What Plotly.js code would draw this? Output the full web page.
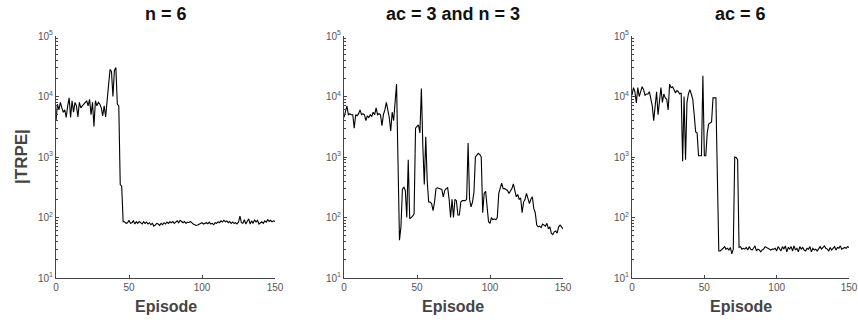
<!DOCTYPE html>
<html>
<head>
<meta charset="utf-8">
<script src="https://cdn.plot.ly/plotly-3.0.1.min.js"></script>
<style>html,body{margin:0;padding:0;background:#fff;}#chart{width:858px;height:320px;}</style>
</head>
<body>
<div id="chart"></div>
<script>
// Episodes 0..150
const episodes = [];
for (let i = 0; i <= 150; i++) episodes.push(i);

const titles = ["n = 6", "ac = 3 and n = 3", "ac = 6"];
const xTitle = "Episode";
const yTitle = "|TRPE|";
const xTickVals = [0, 50, 100, 150];
const yTickVals = [10, 100, 1000, 10000, 100000];
const yTickText = ["10<sup>1</sup>", "10<sup>2</sup>", "10<sup>3</sup>", "10<sup>4</sup>", "10<sup>5</sup>"];

// Panel 1: n = 6
const trpeN6 = [
  4000, 7500, 6000, 8000, 6500, 5500, 6000, 4500, 7000, 9500,
  4500, 8500, 5500, 8000, 7000, 4600, 8000, 6500, 7000, 7500,
  8000, 8500, 7000, 9000, 5000, 8000, 3200, 8500, 7000, 8000,
  7500, 6500, 4800, 7000, 4600, 9000, 20000, 28000, 26000, 10000,
  27000, 30000, 7500, 7000, 350, 330, 85, 85, 80, 82,
  90, 80, 82, 88, 78, 85, 80, 86, 82, 78,
  85, 80, 84, 78, 82, 76, 80, 72, 75, 80,
  78, 74, 80, 76, 82, 78, 84, 80, 85, 82,
  86, 80, 84, 88, 82, 90, 86, 82, 86, 80,
  84, 82, 86, 80, 78, 76, 74, 75, 78, 80,
  82, 78, 80, 82, 79, 84, 78, 80, 76, 82,
  80, 85, 82, 88, 84, 90, 85, 88, 82, 86,
  80, 84, 80, 82, 78, 84, 105, 82, 80, 92,
  78, 85, 95, 78, 88, 80, 92, 84, 90, 78,
  82, 85, 80, 88, 84, 92, 86, 90, 85, 88,
  86
];

// Panel 2: ac = 3 and n = 3
const trpeAc3N3 = [
  4500, 5500, 7000, 5000, 5200, 5000, 5000, 3000, 5000, 4800,
  5200, 6000, 5000, 5200, 5000, 4000, 4800, 4500, 5000, 4700,
  5500, 5000, 6500, 5000, 5200, 5000, 3300, 5000, 6000, 8000,
  6000, 4500, 2700, 5500, 4000, 10000, 16000, 800, 42, 70,
  290, 320, 280, 100, 900, 95, 100, 105, 115, 3000,
  3200, 3400, 2500, 13500, 1500, 350, 2150, 400, 180, 180,
  170, 130, 180, 300, 310, 300, 300, 290, 220, 280,
  300, 310, 200, 100, 200, 100, 200, 190, 110, 110,
  180, 190, 190, 190, 200, 1700, 200, 150, 180, 260,
  1000, 1100, 1150, 1100, 1000, 120, 250, 270, 130, 85,
  80, 100, 92, 95, 92, 100, 250, 300, 370, 300,
  300, 290, 280, 250, 280, 300, 360, 280, 220, 240,
  200, 210, 120, 180, 200, 250, 200, 170, 200, 220,
  140, 120, 75, 70, 72, 68, 78, 75, 72, 80,
  65, 70, 55, 52, 58, 60, 55, 70, 75, 70,
  65
];

// Panel 3: ac = 6
const trpeAc6 = [
  10500, 14000, 12000, 7800, 14000, 10000, 12000, 14500, 13000, 10500,
  11000, 11000, 12000, 9000, 7000, 4000, 8000, 12000, 5000, 9000,
  14000, 8000, 11000, 9500, 9000, 6000, 16000, 14000, 14500, 13000,
  11500, 12500, 12000, 11000, 11500, 850, 10000, 900, 8000, 11000,
  13000, 11000, 9000, 5000, 2600, 2500, 1050, 1050, 1050, 22000,
  1050, 1050, 2500, 3500, 3700, 3800, 9500, 9500, 9500, 500,
  28, 28, 29, 31, 33, 30, 31, 29, 32, 25,
  30, 1000, 980, 900, 32, 33, 30, 31, 30, 32,
  29, 33, 30, 29, 31, 34, 28, 30, 29, 27,
  29, 30, 33, 32, 31, 30, 29, 30, 30, 31,
  28, 33, 31, 28, 33, 30, 34, 27, 32, 30,
  33, 28, 34, 29, 31, 27, 33, 30, 32, 29,
  28, 31, 30, 33, 27, 31, 29, 30, 28, 31,
  33, 30, 32, 34, 31, 30, 28, 32, 29, 31,
  33, 29, 32, 31, 34, 30, 31, 32, 31, 33,
  32
];

const series = [trpeN6, trpeAc3N3, trpeAc6];

const FONT = "Liberation Sans, Arial, Helvetica, sans-serif";
const W = 858, H = 320;
const xPix = [[56, 275], [344, 563], [632, 849]];
const yTop = 36, yBot = 278;

const minorVals = [];
for (let d = 1; d < 5; d++) for (let k = 2; k <= 9; k++) minorVals.push(k * Math.pow(10, d));

const data = [];
const layout = {
  width: W, height: H,
  margin: {l: 0, r: 0, t: 0, b: 0},
  paper_bgcolor: "#fff", plot_bgcolor: "#fff",
  showlegend: false,
  font: {family: FONT, size: 10, color: "#555"},
  annotations: []
};

series.forEach((ys, i) => {
  const sfx = i === 0 ? "" : String(i + 1);
  data.push({
    x: episodes, y: ys, type: "scatter", mode: "lines",
    line: {color: "#000", width: 1.1},
    xaxis: "x" + sfx, yaxis: "y" + sfx, hoverinfo: "skip"
  });
  const [x0, x1] = xPix[i];
  layout["xaxis" + sfx] = {
    domain: [x0 / W, x1 / W], anchor: "y" + sfx,
    range: [0, 150], tickvals: xTickVals, ticks: "inside", ticklen: 3,
    tickcolor: "#444", showline: true, linecolor: "#444", linewidth: 1,
    showgrid: false, zeroline: false, tickfont: {size: 10, color: "#555"},
    fixedrange: true
  };
  layout["yaxis" + sfx] = {
    domain: [1 - yBot / H, 1 - yTop / H], anchor: "x" + sfx,
    type: "log", range: [1, 5], tickvals: yTickVals, ticktext: yTickText,
    ticks: "inside", ticklen: 3, tickcolor: "#444",
    minor: {tickmode: "array", tickvals: minorVals, ticks: "inside", ticklen: 2, tickcolor: "#444", showgrid: false},
    showline: true, linecolor: "#444", linewidth: 1,
    showgrid: false, zeroline: false, tickfont: {size: 10, color: "#555"},
    fixedrange: true
  };
  const cx = (x0 + x1) / 2 / W;
  layout.annotations.push({
    text: "<b>" + titles[i] + "</b>", xref: "paper", yref: "paper",
    x: cx, y: 1 - 14 / H, xanchor: "center", yanchor: "middle", showarrow: false,
    font: {family: FONT, size: 18, color: "#111"}
  });
  layout.annotations.push({
    text: "<b>" + xTitle + "</b>", xref: "paper", yref: "paper",
    x: cx, y: 1 - 306 / H, xanchor: "center", yanchor: "middle", showarrow: false,
    font: {family: FONT, size: 16, color: "#444"}
  });
});

layout.annotations.push({
  text: "<b>" + yTitle + "</b>", xref: "paper", yref: "paper",
  x: 21 / W, y: 1 - 157 / H, xanchor: "center", yanchor: "middle", showarrow: false,
  textangle: -90, font: {family: FONT, size: 17, color: "#444"}
});

Plotly.newPlot("chart", data, layout, {staticPlot: true, displayModeBar: false});
</script>
</body>
</html>
